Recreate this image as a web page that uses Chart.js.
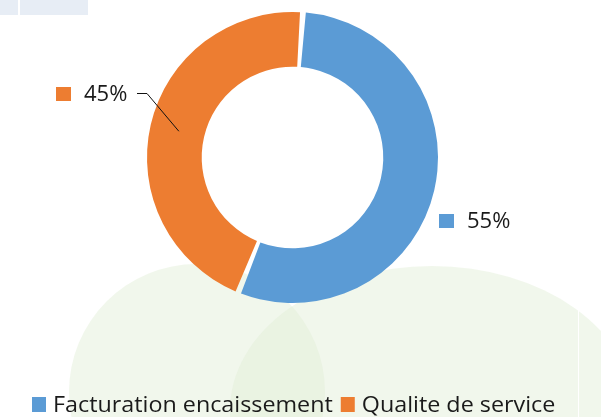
<!DOCTYPE html>
<html>
<head>
<meta charset="utf-8">
<script src="https://cdn.jsdelivr.net/npm/chart.js@4.4.0/dist/chart.umd.min.js"></script>
<style>
  html, body { margin: 0; padding: 0; background: #fff; }
  canvas { display: block; }
</style>
</head>
<body>
<canvas id="donutChart" width="601" height="417"></canvas>
<script>
var categories = ['Facturation encaissement', 'Qualite de service'];
var shares = [55, 45];
var sliceColors = ['#5B9BD5', '#ED7D31'];
var FONT = '"Open Sans", "Noto Sans", sans-serif';

// faint background shapes seen behind the chart
var backdrop = {
    id: 'backdrop',
    beforeDraw: function (chart) {
        var c = chart.ctx;
        c.save();
        c.fillStyle = '#fff';
        c.fillRect(0, 0, chart.width, chart.height);
        c.fillStyle = '#E7EDF5';
        c.fillRect(0, 0, 88, 15);
        c.fillStyle = '#fff';
        c.fillRect(18, 0, 2, 15);
        c.fillStyle = 'rgba(225, 238, 215, 0.47)';
        c.beginPath(); c.ellipse(197, 392, 128, 128, 0, 0, Math.PI * 2); c.fill();
        c.beginPath(); c.ellipse(432, 410, 202, 144, 0, 0, Math.PI * 2); c.fill();
        c.fillStyle = '#fff';
        c.fillRect(578, 297, 1, 120);
        c.restore();
    }
};

// percentage labels next to the slices + bottom legend
var labelsAndLegend = {
    id: 'labelsAndLegend',
    afterDraw: function (chart) {
        var c = chart.ctx;
        var meta = chart.getDatasetMeta(0);
        var total = shares.reduce(function (a, b) { return a + b; }, 0);
        c.save();
        c.textBaseline = 'middle';
        c.textAlign = 'left';
        c.font = '22px ' + FONT;
        var spots = [{ x: 467, y: 221 }, { x: 84, y: 94 }];
        for (var i = 0; i < shares.length; i++) {
            var txt = Math.round(shares[i] / total * 100) + '%';
            c.fillStyle = sliceColors[i];
            c.fillRect(spots[i].x - 28, spots[i].y - 7, 15, 14);
            c.fillStyle = '#1a1a1a';
            c.fillText(txt, spots[i].x, spots[i].y + 1);
        }
        // leader line for the orange slice
        var arc = meta.data[1];
        var mid = (arc.startAngle + arc.endAngle) / 2;
        var r = (arc.innerRadius + arc.outerRadius) / 2;
        c.strokeStyle = '#111';
        c.lineWidth = 1;
        c.beginPath();
        c.moveTo(137, 93.5);
        c.lineTo(147, 93.5);
        c.lineTo(arc.x + Math.cos(mid) * r, arc.y + Math.sin(mid) * r);
        c.stroke();

        // legend (text is a bit wider than Open Sans, so stretch it)
        c.font = '21px ' + FONT;
        c.textBaseline = 'alphabetic';
        var stretch = 1.11;
        var x = 32, base = 412;
        for (var j = 0; j < categories.length; j++) {
            c.fillStyle = sliceColors[j];
            c.fillRect(x, base - 15, 14, 15);
            c.fillStyle = '#1a1a1a';
            c.save();
            c.translate(x + 21, base);
            c.scale(stretch, 1);
            c.fillText(categories[j], 0, 0);
            c.restore();
            x += 21 + c.measureText(categories[j]).width * stretch + 8;
        }
        c.restore();
    }
};

new Chart(document.getElementById('donutChart'), {
    type: 'doughnut',
    data: {
        labels: categories,
        datasets: [{
            data: shares,
            backgroundColor: sliceColors,
            borderWidth: 0,
            spacing: 3
        }]
    },
    options: {
        responsive: false,
        animation: false,
        cutout: '62%',
        rotation: 4,
        layout: { padding: { left: 147, right: 163, top: 12, bottom: 114 } },
        plugins: {
            legend: { display: false },
            tooltip: { enabled: false }
        }
    },
    plugins: [backdrop, labelsAndLegend]
});
</script>
</body>
</html>
